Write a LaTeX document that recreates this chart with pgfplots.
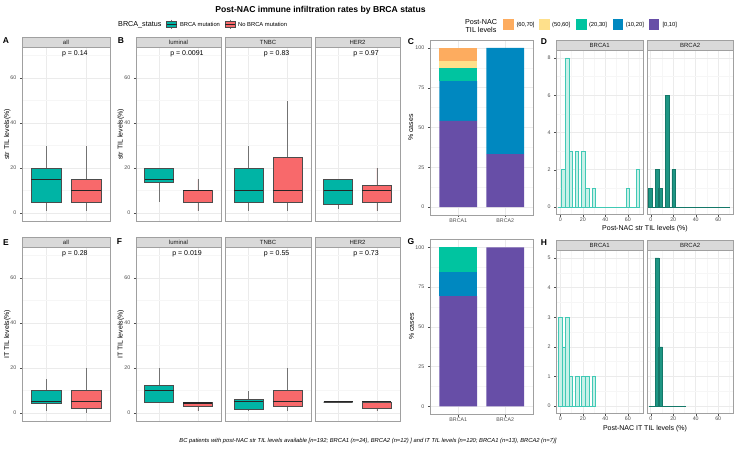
\documentclass[border=0pt]{standalone}
\usepackage{pgfplots}
\pgfplotsset{compat=1.18}
\usepgfplotslibrary{statistics}
\usepackage{fontspec}
\setmainfont{Liberation Sans}

\definecolor{tealbox}{RGB}{0,180,165}
\definecolor{redbox}{RGB}{248,105,107}
\definecolor{c60}{RGB}{253,172,95}
\definecolor{c50}{RGB}{254,224,139}
\definecolor{c20}{RGB}{0,196,160}
\definecolor{c10}{RGB}{0,136,192}
\definecolor{c0}{RGB}{103,78,167}
\definecolor{h1fill}{RGB}{200,240,232}
\definecolor{h1line}{RGB}{64,201,181}
\definecolor{h2fill}{RGB}{30,150,132}
\definecolor{h2line}{RGB}{20,120,105}
\definecolor{gridmaj}{RGB}{235,235,235}
\definecolor{gridmin}{RGB}{246,246,246}
\definecolor{frame}{RGB}{160,160,160}
\definecolor{stripfill}{RGB}{217,217,217}
\definecolor{ticktext}{RGB}{77,77,77}

\newcommand{\fs}[1]{\fontsize{#1}{#1}\selectfont}

\pgfplotsset{
  gg/.style={scale only axis, anchor=north west, tick pos=left,
    axis line style={draw=frame, line width=0.5pt},
    tick align=outside, major tick length=2.2pt, minor tick length=0pt,
    every tick/.append style={draw=ticktext, line width=0.4pt},
    major grid style={draw=gridmaj, line width=0.55pt},
    minor grid style={draw=gridmin, line width=0.3pt},
    tick label style={font=\fs{5.3}, text=ticktext},
    xticklabel style={inner sep=1.2pt},
    /pgf/number format/assume math mode=true},
  bx/.style={gg, width=#1, height=173.3pt,
    xmin=0.4, xmax=2.6, ymin=-3.5, ymax=73.5,
    xtick={1,2}, xticklabels={}, xmajorticks=false,
    ytick={0,20,40,60}, minor ytick={10,30,50,70},
    xmajorgrids, ymajorgrids, yminorgrids,
    boxplot/draw direction=y, boxplot/box extend=0.75, boxplot/whisker extend=0,
    boxplot/every median/.style={line width=1.1pt, draw=black!85},
    boxplot/every whisker/.style={draw=black!55, line width=0.5pt},
    boxplot/every box/.style={draw=black!70, line width=0.4pt}},
  noy/.style={yticklabels={}, ymajorticks=false},
  stk/.style={gg, width=103.5pt, height=175pt,
    xmin=0.4, xmax=2.6, ymin=-5, ymax=105,
    xtick={1,2}, xticklabels={BRCA1,BRCA2},
    ytick={0,25,50,75,100}, minor ytick={12.5,37.5,62.5,87.5},
    xmajorgrids, ymajorgrids, yminorgrids, ybar stacked, bar width=0.8},
  hst/.style={gg, width=86.6pt, xmin=-3.5, xmax=73.5,
    xtick={0,20,40,60}, minor xtick={10,30,50,70}, grid=both},
}

% box: colour, position, lower whisker, Q1, median, Q3, upper whisker
\newcommand{\bp}[7]{\addplot[fill=#1, boxplot prepared={draw position=#2,
  lower whisker=#3, lower quartile=#4, median=#5, upper quartile=#6, upper whisker=#7}] coordinates {};}
\newcommand{\strip}[5]{\draw[fill=stripfill, draw=frame, line width=0.5pt] (#1pt,-#2pt) rectangle (#3pt,-#4pt);
  \node[font=\fs{6}, text=black!90] at ({(#1+#3)/2*1pt},{-(#2+#4)/2*1pt}) {#5};}

\begin{document}
\begin{tikzpicture}
\useasboundingbox (0pt,0pt) rectangle (736pt,-448pt);

% ---------- title and legends
\node[font=\fs{8.6}\bfseries] at (320.5pt,-10pt) {Post-NAC immune infiltration rates by BRCA status};
\node[font=\fs{7.2}, anchor=west, inner sep=0] at (118pt,-24.3pt) {BRCA\_status};
\draw[black!55, line width=0.5pt] (171.5pt,-19.5pt) -- (171.5pt,-29.2pt);
\draw[fill=tealbox, draw=black!70, line width=0.4pt] (166.5pt,-21.5pt) rectangle (176.5pt,-27.3pt);
\draw[black!85, line width=0.9pt] (166.5pt,-24.4pt) -- (176.5pt,-24.4pt);
\node[font=\fs{5.8}, anchor=west, inner sep=0] at (179.8pt,-24.3pt) {BRCA mutation};
\draw[black!55, line width=0.5pt] (230pt,-19.5pt) -- (230pt,-29.2pt);
\draw[fill=redbox, draw=black!70, line width=0.4pt] (225pt,-21.5pt) rectangle (235pt,-27.3pt);
\draw[black!85, line width=0.9pt] (225pt,-24.4pt) -- (235pt,-24.4pt);
\node[font=\fs{5.8}, anchor=west, inner sep=0] at (238pt,-24.3pt) {No BRCA mutation};

\node[font=\fs{7.2}, align=center, inner sep=0] at (481pt,-26pt) {Post-NAC\\TIL levels};
\fill[c60] (503pt,-19.3pt) rectangle (513.5pt,-29.8pt);
\node[font=\fs{5.8}, anchor=west, inner sep=0] at (516.3pt,-24.5pt) {(60,70]};
\fill[c50] (539pt,-19.3pt) rectangle (549.5pt,-29.8pt);
\node[font=\fs{5.8}, anchor=west, inner sep=0] at (552pt,-24.5pt) {(50,60]};
\fill[c20] (576pt,-19.3pt) rectangle (586.5pt,-29.8pt);
\node[font=\fs{5.8}, anchor=west, inner sep=0] at (588.8pt,-24.5pt) {(20,30]};
\fill[c10] (612.5pt,-19.3pt) rectangle (623pt,-29.8pt);
\node[font=\fs{5.8}, anchor=west, inner sep=0] at (625.6pt,-24.5pt) {(10,20]};
\fill[c0] (648.5pt,-19.3pt) rectangle (659pt,-29.8pt);
\node[font=\fs{5.8}, anchor=west, inner sep=0] at (662.3pt,-24.5pt) {[0,10]};

% ---------- A
\begin{axis}[bx=88pt, at={(22pt,-47.7pt)}]
\bp{tealbox}{1}{1}{5}{15}{20}{30}
\bp{redbox}{2}{1}{5}{10}{15}{30}
\node[font=\fs{7}] at (axis cs:1.72,71) {p = 0.14};
\end{axis}
% ---------- B
\begin{axis}[bx=85pt, at={(136pt,-47.7pt)}]
\bp{tealbox}{1}{5}{13.75}{15}{20}{20}
\bp{redbox}{2}{1}{5}{10}{10}{15}
\node[font=\fs{7}] at (axis cs:1.72,71) {p = 0.0091};
\end{axis}
\begin{axis}[bx=86pt, noy, at={(225pt,-47.7pt)}]
\bp{tealbox}{1}{1}{5}{10}{20}{30}
\bp{redbox}{2}{1}{5}{10}{25}{50}
\node[font=\fs{7}] at (axis cs:1.72,71) {p = 0.83};
\end{axis}
\begin{axis}[bx=85pt, noy, at={(315pt,-47.7pt)}]
\bp{tealbox}{1}{2}{4}{10}{15}{15}
\bp{redbox}{2}{1}{5}{10}{12.5}{20}
\node[font=\fs{7}] at (axis cs:1.72,71) {p = 0.97};
\end{axis}
% ---------- E
\begin{axis}[bx=88pt, at={(22pt,-247.7pt)}]
\bp{tealbox}{1}{1}{4.2}{5}{10}{15}
\bp{redbox}{2}{0}{2}{5}{10}{20}
\node[font=\fs{7}] at (axis cs:1.72,71) {p = 0.28};
\end{axis}
% ---------- F
\begin{axis}[bx=85pt, at={(136pt,-247.7pt)}]
\bp{tealbox}{1}{5}{5}{10}{12.5}{20}
\bp{redbox}{2}{1}{3}{4.5}{5}{5}
\node[font=\fs{7}] at (axis cs:1.72,71) {p = 0.019};
\end{axis}
\begin{axis}[bx=86pt, noy, at={(225pt,-247.7pt)}]
\bp{tealbox}{1}{1}{1.8}{5}{6.2}{10}
\bp{redbox}{2}{1}{3}{5}{10}{20}
\node[font=\fs{7}] at (axis cs:1.72,71) {p = 0.55};
\end{axis}
\begin{axis}[bx=85pt, noy, at={(315pt,-247.7pt)}]
\bp{tealbox}{1}{5}{5}{5}{5}{5}
\bp{redbox}{2}{1}{2}{5}{5}{5}
\node[font=\fs{7}] at (axis cs:1.72,71) {p = 0.73};
\end{axis}

% ---------- C
\begin{axis}[stk, at={(430pt,-40pt)}]
\addplot[fill=c0, draw=none] coordinates {(1,54.17) (2,33.33)};
\addplot[fill=c10, draw=none] coordinates {(1,25) (2,66.67)};
\addplot[fill=c20, draw=none] coordinates {(1,8.33) (2,0)};
\addplot[fill=c50, draw=none] coordinates {(1,4.17) (2,0)};
\addplot[fill=c60, draw=none] coordinates {(1,8.33) (2,0)};
\end{axis}
% ---------- G
\begin{axis}[stk, at={(430pt,-239.3pt)}]
\addplot[fill=c0, draw=none] coordinates {(1,69.23) (2,100)};
\addplot[fill=c10, draw=none] coordinates {(1,15.38) (2,0)};
\addplot[fill=c20, draw=none] coordinates {(1,15.38) (2,0)};
\end{axis}

% ---------- D
\begin{axis}[hst, height=164pt, at={(556.4pt,-50.5pt)}, ymin=-0.4, ymax=8.4,
  ytick={0,2,4,6,8}, minor ytick={1,3,5,7}]
\addplot[h1line, line width=0.6pt] coordinates {(-2.1,0) (70.5,0)};
\addplot[ybar, bar width=3.3, bar shift=0pt, fill=h1fill, draw=h1line, line width=0.6pt]
  coordinates {(2.8,2) (6.05,8) (9.35,3) (14.75,3) (20.65,3) (23.9,1) (29.85,1) (60.1,1) (68.95,2)};
\end{axis}
\begin{axis}[hst, noy, height=164pt, at={(646.8pt,-50.5pt)}, ymin=-0.4, ymax=8.4,
  ytick={0,2,4,6,8}, minor ytick={1,3,5,7}]
\addplot[h2line, line width=0.6pt] coordinates {(-2.1,0) (70.5,0)};
\addplot[ybar, bar width=3.3, bar shift=0pt, fill=h2fill, draw=h2line, line width=0.6pt]
  coordinates {(-0.45,1) (5.55,2) (8.8,1) (14.45,6) (20.45,2)};
\end{axis}
% ---------- H
\begin{axis}[hst, height=163pt, at={(556.4pt,-250.5pt)}, ymin=-0.25, ymax=5.25,
  ytick={0,1,2,3,4,5}, minor ytick={0.5,1.5,2.5,3.5,4.5}]
\addplot[h1line, line width=0.6pt] coordinates {(-1.8,0) (31.5,0)};
\addplot[ybar, bar width=3.3, bar shift=0pt, fill=h1fill, draw=h1line, line width=0.6pt]
  coordinates {(-0.15,3) (3.15,2) (6.25,3) (9.35,1) (14.85,1) (20.65,1) (23.9,1) (29.85,1)};
\end{axis}
\begin{axis}[hst, noy, height=163pt, at={(646.8pt,-250.5pt)}, ymin=-0.25, ymax=5.25,
  ytick={0,1,2,3,4,5}, minor ytick={0.5,1.5,2.5,3.5,4.5}]
\addplot[h2line, line width=0.6pt] coordinates {(-1.8,0) (31.5,0)};
\addplot[ybar, bar width=3.3, bar shift=0pt, fill=h2fill, draw=h2line, line width=0.6pt]
  coordinates {(5.55,5) (8.8,2)};
\end{axis}

% ---------- strips
\strip{22}{37.7}{110}{47.7}{all}
\strip{136}{37.7}{221}{47.7}{luminal}
\strip{225}{37.7}{311}{47.7}{TNBC}
\strip{315}{37.7}{400}{47.7}{HER2}
\strip{22}{237.7}{110}{247.7}{all}
\strip{136}{237.7}{221}{247.7}{luminal}
\strip{225}{237.7}{311}{247.7}{TNBC}
\strip{315}{237.7}{400}{247.7}{HER2}
\strip{556.4}{40.5}{643}{50.5}{BRCA1}
\strip{646.8}{40.5}{733.4}{50.5}{BRCA2}
\strip{556.4}{240.5}{643}{250.5}{BRCA1}
\strip{646.8}{240.5}{733.4}{250.5}{BRCA2}

% ---------- axis titles
\node[rotate=90, font=\fs{7}] at (7.3pt,-134.3pt) {str TIL levels(\%)};
\node[rotate=90, font=\fs{7}] at (120.7pt,-134.3pt) {str TIL levels(\%)};
\node[rotate=90, font=\fs{7}] at (7.3pt,-334.3pt) {IT TIL levels(\%)};
\node[rotate=90, font=\fs{7}] at (120.7pt,-334.3pt) {IT TIL levels(\%)};
\node[rotate=90, font=\fs{7}] at (410.8pt,-127.5pt) {\% cases};
\node[rotate=90, font=\fs{7}] at (411.5pt,-326.5pt) {\% cases};
\node[font=\fs{7}, inner sep=0] at (645pt,-228.3pt) {Post-NAC str TIL levels (\%)};
\node[font=\fs{7}, inner sep=0] at (645pt,-428.3pt) {Post-NAC IT TIL levels (\%)};

% ---------- panel letters
\foreach \l/\px/\py in {A/6/41, B/121/41, C/411/42, D/544/42, E/6/242.5, F/119.5/242, G/411/242, H/544/243}
  \node[font=\fs{8.5}\bfseries] at (\px pt,-\py pt) {\l};

% ---------- caption
\node[font=\fs{5.8}\itshape] at (368pt,-440.5pt) {BC patients with post-NAC str TIL levels available [n=192; BRCA1 (n=24), BRCA2 (n=12) ] and IT TIL levels [n=120; BRCA1 (n=13), BRCA2 (n=7)]};
\end{tikzpicture}
\end{document}
